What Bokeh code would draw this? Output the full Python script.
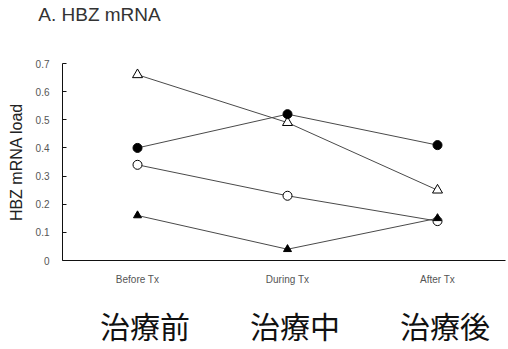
from bokeh.plotting import figure
from bokeh.models import Range1d, FixedTicker, LinearAxis
from bokeh.embed import file_html
from bokeh.resources import INLINE

# Treatment stages (English axis labels and Japanese captions)
stages = ["Before Tx", "During Tx", "After Tx"]
stages_ja = ["治療前", "治療中", "治療後"]
stage_pos = [0, 1, 2]

# HBZ mRNA load per patient at each stage
open_triangle = [0.66, 0.49, 0.25]
filled_circle = [0.40, 0.52, 0.41]
open_circle = [0.34, 0.23, 0.14]
filled_triangle = [0.16, 0.04, 0.15]

y_ticks = [0, 0.1, 0.2, 0.3, 0.4, 0.5, 0.6, 0.7]
y_tick_labels = ["0", "0.1", "0.2", "0.3", "0.4", "0.5", "0.6", "0.7"]

panel_title = "A. HBZ mRNA"

FONT = "Liberation Sans"
LINE = "#4a4a4a"

p = figure(width=508, height=349, output_backend="svg", toolbar_location=None,
           x_range=Range1d(-0.5, 2.4533), y_range=Range1d(0, 0.7),
           min_border_left=62, min_border_right=3, min_border_top=62,
           min_border_bottom=88, x_axis_type=None, y_axis_type=None)
p.outline_line_color = None
p.xgrid.visible = False
p.ygrid.visible = False
# slightly shifted range used for the Japanese captions
p.extra_x_ranges = {"ja": Range1d(-0.55, 2.4033)}

# panel heading, drawn as a bare axis label above the frame (left-side position)
tax = LinearAxis(ticker=FixedTicker(ticks=[-0.2533]),
                 major_label_overrides={-0.2533: panel_title})
tax.major_label_text_font = FONT
tax.major_label_text_font_size = "19px"
tax.major_label_text_color = "#333333"
tax.major_label_standoff = 33
tax.axis_line_color = None
tax.major_tick_line_color = None
tax.minor_tick_line_color = None
p.add_layout(tax, "above")

# y axis
yax = LinearAxis(ticker=FixedTicker(ticks=y_ticks),
                 major_label_overrides={t: s for t, s in zip(y_ticks, y_tick_labels)})
yax.axis_label = "HBZ mRNA load"
yax.axis_label_text_font = FONT
yax.axis_label_text_font_style = "normal"
yax.axis_label_text_font_size = "16px"
yax.axis_label_text_color = "#222222"
yax.axis_label_standoff = 8
yax.major_label_text_font = FONT
yax.major_label_text_font_size = "10px"
yax.major_label_text_color = "#555555"
yax.major_label_standoff = 13
yax.major_tick_in = 4
yax.major_tick_out = 0
yax.minor_tick_line_color = None
yax.axis_line_color = "#111111"
yax.major_tick_line_color = "#111111"
p.add_layout(yax, "left")

# x axis with stage names
xax = LinearAxis(ticker=FixedTicker(ticks=stage_pos),
                 major_label_overrides={t: s for t, s in zip(stage_pos, stages)})
xax.major_label_text_font = FONT
xax.major_label_text_font_size = "10px"
xax.major_label_text_color = "#555555"
xax.major_label_standoff = 7
xax.major_tick_line_color = None
xax.minor_tick_line_color = None
xax.axis_line_color = "#111111"
p.add_layout(xax, "below")

# Japanese stage captions as a bare axis below
jax = LinearAxis(x_range_name="ja", ticker=FixedTicker(ticks=stage_pos),
                 major_label_overrides={t: s for t, s in zip(stage_pos, stages_ja)})
jax.major_label_text_font = "Noto Sans CJK JP"
jax.major_label_text_font_size = "30px"
jax.major_label_text_color = "#111111"
jax.major_label_standoff = 9
jax.axis_line_color = None
jax.major_tick_line_color = None
jax.minor_tick_line_color = None
p.add_layout(jax, "below")

# patient trajectories
series = [
    (open_triangle, "triangle", "white", 10),
    (filled_circle, "circle", "black", 9),
    (open_circle, "circle", "white", 9),
    (filled_triangle, "triangle", "black", 8),
]
for vals, marker, fill, size in series:
    p.line(stage_pos, vals, line_color=LINE, line_width=1)
    p.scatter(stage_pos, vals, marker=marker, size=size, fill_color=fill,
              line_color="black", line_width=1)

open("out.html", "w").write(file_html(p, INLINE))
